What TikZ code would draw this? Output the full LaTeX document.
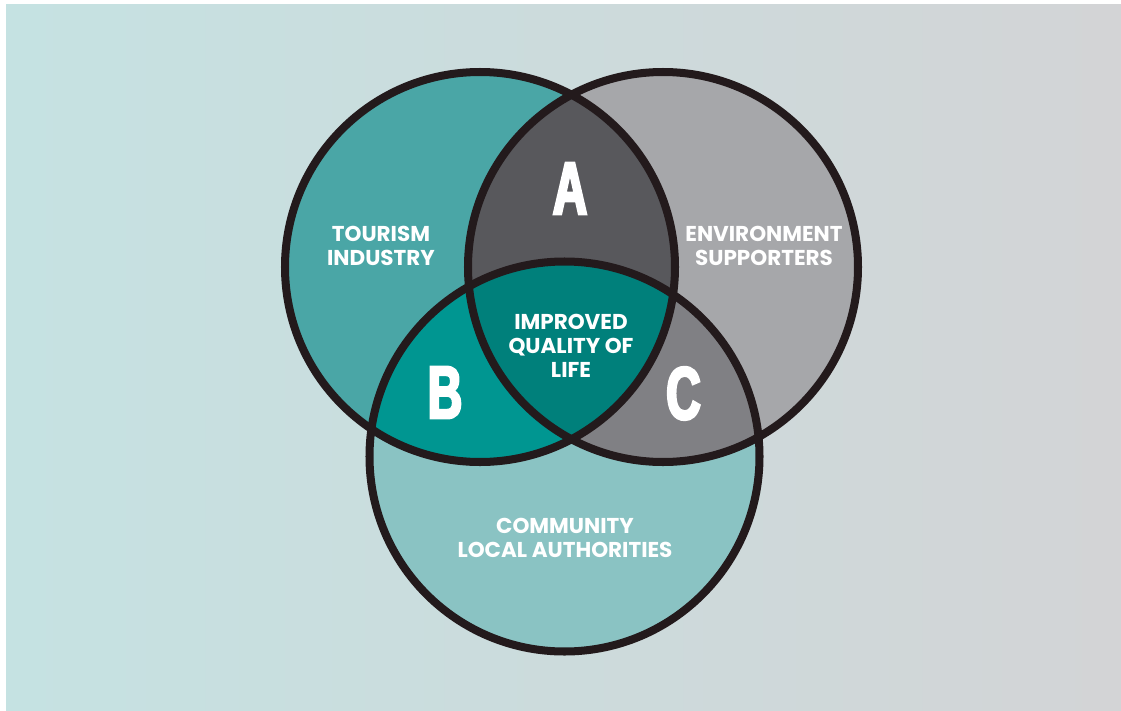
\documentclass[tikz,border=0pt]{standalone}
\usepackage{fontspec}
\setmainfont{Poppins}
\newfontfamily\letterfont{Liberation Sans}[FakeStretch=0.64,FakeBold=3.5]

\definecolor{bgleft}{RGB}{197,226,226}
\definecolor{bgright}{RGB}{211,212,214}
\definecolor{tourism}{RGB}{74,166,166}
\definecolor{environ}{RGB}{166,167,170}
\definecolor{community}{RGB}{138,195,195}
\definecolor{regA}{RGB}{88,88,92}
\definecolor{regB}{RGB}{0,150,145}
\definecolor{regC}{RGB}{128,128,132}
\definecolor{core}{RGB}{0,128,123}
\definecolor{ringline}{RGB}{35,26,28}

\begin{document}
\begin{tikzpicture}[x=0.025cm,y=-0.025cm,
  ring/.style={draw=ringline,line width=5.7pt},
  caption/.style={text=white,inner sep=0pt,align=center,
    font=\fontsize{15.3}{17}\selectfont\bfseries},
  region/.style={text=white,inner sep=0pt,
    font=\letterfont\bfseries\fontsize{53}{53}\selectfont}]

  \useasboundingbox (0,0) rectangle (1121,711);
  % page background: white margin on the left and top, gradient elsewhere
  \fill[white] (0,0) rectangle (1121,711);
  \fill[bgright] (6,4) rectangle (1125,715);
  \shade[left color=bgleft,right color=bgright] (6,4) rectangle (1121,715);

  % circle centres
  \coordinate (T) at (480,267);
  \coordinate (E) at (663,267);
  \coordinate (K) at (564.5,456.5);
  \def\rad{195}

  % single-set areas
  \fill[tourism]   (T) circle[radius=\rad];
  \fill[environ]   (E) circle[radius=\rad];
  \fill[community] (K) circle[radius=\rad];

  % pairwise overlaps
  \begin{scope}
    \clip (T) circle[radius=\rad];
    \fill[regA] (E) circle[radius=\rad];
    \fill[regB] (K) circle[radius=\rad];
  \end{scope}
  \begin{scope}
    \clip (E) circle[radius=\rad];
    \fill[regC] (K) circle[radius=\rad];
  \end{scope}
  % triple overlap
  \begin{scope}
    \clip (T) circle[radius=\rad];
    \clip (E) circle[radius=\rad];
    \fill[core] (K) circle[radius=\rad];
  \end{scope}

  % outlines
  \draw[ring] (T) circle[radius=\rad];
  \draw[ring] (E) circle[radius=\rad];
  \draw[ring] (K) circle[radius=\rad];

  % labels
  \node[caption] (tour) at (381,246) {TOURISM\\INDUSTRY};
  \node[caption] (env)  at (764,245.5) {ENVIRONMENT\\SUPPORTERS};
  \node[caption] (mid)  at (571,345.5) {IMPROVED\\QUALITY OF\\LIFE};
  \node[caption] (comm) at (565,538) {COMMUNITY\\LOCAL AUTHORITIES};

  \node[region] (lA) at (570,188.5) {A};
  \node[region] (lB) at (445,392.5) {B};
  \node[region] (lC) at (683.5,393.5) {C};
\end{tikzpicture}
\end{document}
